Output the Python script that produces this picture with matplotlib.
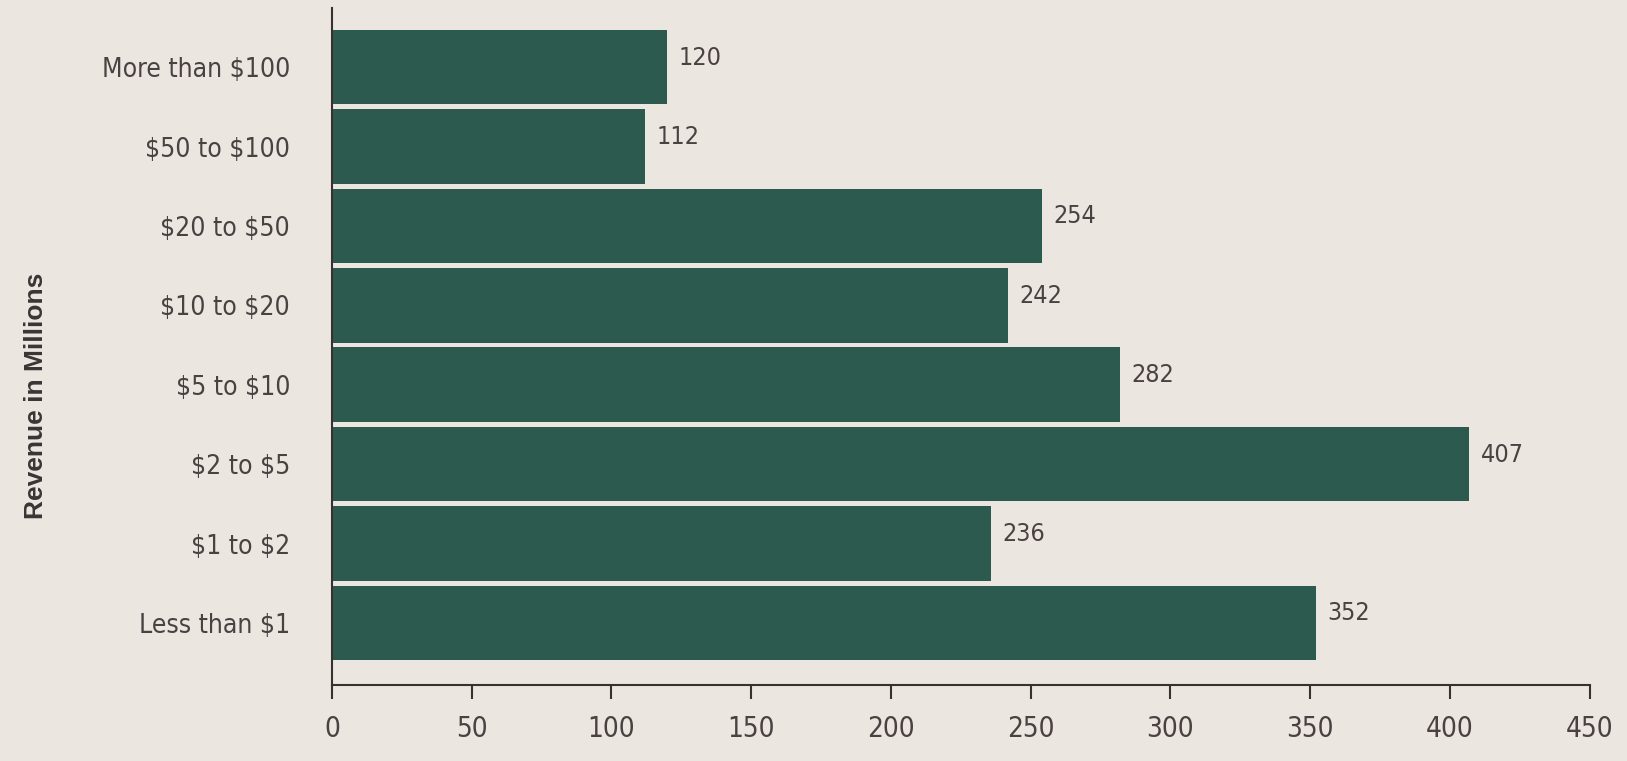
import matplotlib.pyplot as plt

plt.rcParams['text.parse_math'] = False

categories = ['Less than $1', '$1 to $2', '$2 to $5', '$5 to $10',
              '$10 to $20', '$20 to $50', '$50 to $100', 'More than $100']
values = [352, 236, 407, 282, 242, 254, 112, 120]
xticks = [0, 50, 100, 150, 200, 250, 300, 350, 400, 450]

bg = '#ece6e0'
bar_color = '#2c5a4f'
text_color = '#4a4242'
narrow = dict(family=['DejaVu Sans'], fontstretch='condensed')

fig = plt.figure(figsize=(16.27, 7.61), dpi=100, facecolor=bg)
ax = fig.add_axes([0.204, 0.10, 0.773, 0.89], facecolor=bg)

y = range(len(categories))
ax.barh(y, values, height=0.94, color=bar_color, edgecolor='none')

for i, v in enumerate(values):
    ax.text(v + 4, i + 0.12, str(v), va='center', ha='left',
            fontsize=18, color=text_color, **narrow)

ax.set_xlim(0, 450)
ax.set_ylim(-0.78, 7.75)
ax.set_yticks(list(y))
ax.set_yticklabels(categories, fontsize=19, color=text_color, **narrow)
ax.tick_params(axis='y', length=0, pad=30)
ax.set_xticks(xticks)
ax.set_xticklabels([str(t) for t in xticks], fontsize=20, color=text_color, **narrow)
ax.tick_params(axis='x', direction='out', length=10, width=1.5, color='#3a3030', pad=12)

for s in ['top', 'right']:
    ax.spines[s].set_visible(False)
for s in ['left', 'bottom']:
    ax.spines[s].set_color('#3a3030')
    ax.spines[s].set_linewidth(1.5)

fig.text(0.022, 0.48, 'Revenue in Millions', rotation=90, va='center', ha='center',
         fontsize=19, fontweight='bold', color='#3a3535', family=['Liberation Sans', 'DejaVu Sans'])

fig.savefig('out.png', dpi=100, facecolor=bg)
